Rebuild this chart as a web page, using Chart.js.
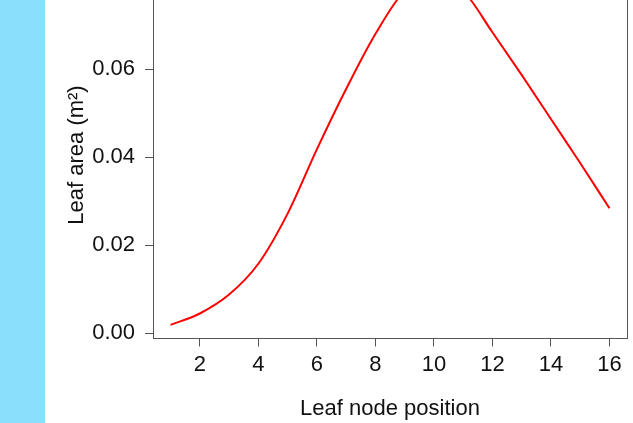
<!DOCTYPE html>
<html>
<head>
<meta charset="utf-8">
<script src="https://cdn.jsdelivr.net/npm/chart.js@4/dist/chart.umd.min.js"></script>
<style>
  html, body { margin: 0; padding: 0; background: #ffffff; width: 633px; height: 423px; overflow: hidden; }
  #band { position: absolute; left: 0; top: 0; width: 45px; height: 423px; background: #8adffc; }
  #wrap { position: absolute; left: 0; top: -40px; width: 633px; height: 463px; }
</style>
</head>
<body>
<div id="band"></div>
<div id="wrap"><canvas id="chart" width="633" height="463"></canvas></div>
<script>
// Leaf area along the stem, by leaf node position
const nodePositions = [1, 2, 3, 4, 5, 6, 7, 8, 9, 10, 11, 12, 13, 14, 15, 16];
const leafArea = [0.0019, 0.0045, 0.0088, 0.0158, 0.0272, 0.0418, 0.0555, 0.0680,
                  0.0778, 0.0810, 0.0778, 0.0684, 0.0587, 0.0487, 0.0387, 0.0284];

// Axis ticks and ranges
const xTickValues = [2, 4, 6, 8, 10, 12, 14, 16];
const yTickValues = [0.00, 0.02, 0.04, 0.06];
const xRange = [0.4, 16.6];
const yRange = [-0.00118, 0.0822];

const textFont = { family: "'Liberation Sans', Arial, Helvetica, sans-serif", size: 22 };
const textColor = '#111111';
const axisColor = '#555555';

new Chart(document.getElementById('chart'), {
  type: 'line',
  data: {
    datasets: [{
      data: nodePositions.map((x, i) => ({ x: x, y: leafArea[i] })),
      borderColor: '#ff0000',
      borderWidth: 2,
      pointRadius: 0,
      cubicInterpolationMode: 'monotone',
      fill: false
    }]
  },
  options: {
    responsive: false,
    animation: false,
    events: [],
    layout: { padding: { top: 11.5, right: 6, bottom: 0, left: 0 } },
    plugins: { legend: { display: false }, tooltip: { enabled: false } },
    scales: {
      x: {
        type: 'linear',
        min: xRange[0],
        max: xRange[1],
        afterBuildTicks: s => { s.ticks = xTickValues.map(v => ({ value: v })); },
        afterFit: s => { s.height = 84.5; s.paddingLeft = 0; s.paddingRight = 0; },
        ticks: { font: textFont, color: textColor, padding: 5, maxRotation: 0, autoSkip: false,
                 callback: v => String(v) },
        grid: { drawOnChartArea: false, drawTicks: true, tickLength: 8, color: axisColor, tickColor: axisColor },
        border: { display: true, color: axisColor, width: 1 },
        title: { display: true, text: 'Leaf node position', font: textFont, color: textColor,
                 padding: { top: 0, bottom: 0.4 } }
      },
      y: {
        type: 'linear',
        position: 'left',
        min: yRange[0],
        max: yRange[1],
        afterBuildTicks: s => { s.ticks = yTickValues.map(v => ({ value: v })); },
        afterFit: s => { s.width = 153; s.paddingTop = 0; s.paddingBottom = 0; },
        ticks: { font: textFont, color: textColor, padding: 10, callback: v => Number(v).toFixed(2) },
        grid: { drawOnChartArea: false, drawTicks: true, tickLength: 8, color: axisColor, tickColor: axisColor },
        border: { display: true, color: axisColor, width: 1 },
        title: { display: true, text: 'Leaf area (m²)', font: textFont, color: textColor,
                 padding: { top: 64, bottom: 0 } }
      },
      y2: {
        type: 'linear',
        position: 'right',
        min: yRange[0],
        max: yRange[1],
        afterFit: s => { s.width = 0; s.paddingTop = 0; s.paddingBottom = 0; },
        ticks: { display: false },
        grid: { display: false, drawTicks: false },
        border: { display: true, color: axisColor, width: 1 }
      }
    }
  }
});
</script>
</body>
</html>
